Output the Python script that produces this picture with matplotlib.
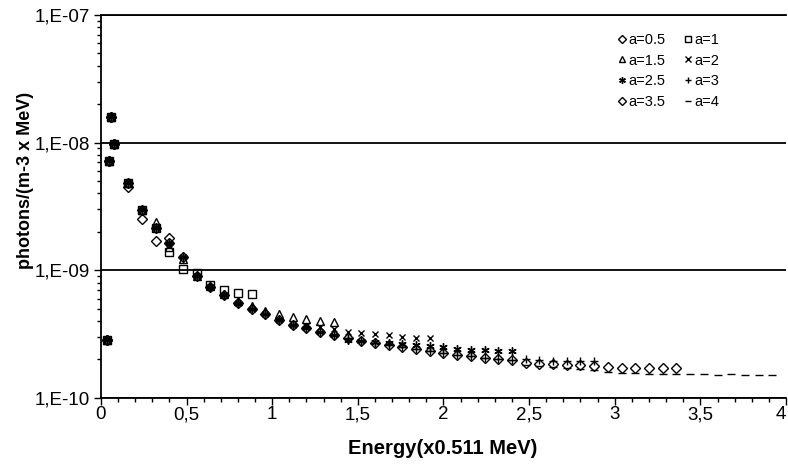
import numpy as np
import matplotlib
matplotlib.use('Agg')
import matplotlib.pyplot as plt
from matplotlib.ticker import FuncFormatter, MultipleLocator, LogLocator, NullFormatter

plt.rcParams['font.family'] = ['Liberation Sans', 'DejaVu Sans']

# energy grid (x0.511 MeV), shared by all series
energy = [0.035, 0.05, 0.06, 0.076,
          0.16, 0.24, 0.32, 0.40, 0.48, 0.56, 0.64, 0.72, 0.80, 0.88,
          0.96, 1.04, 1.12, 1.20, 1.28, 1.36, 1.44, 1.52, 1.60, 1.68,
          1.76, 1.84, 1.92, 2.00, 2.08, 2.16, 2.24, 2.32, 2.40, 2.48,
          2.56, 2.64, 2.72, 2.80, 2.88, 2.96, 3.04, 3.12, 3.20, 3.28,
          3.36, 3.44, 3.52, 3.60, 3.68, 3.76, 3.84, 3.92]

# photons/(m-3 x MeV), one list per a
a05 = [2.85e-10, 7.2e-9, 1.6e-8, 9.8e-9,
       4.50e-9, 2.52e-9, 1.70e-9, 1.78e-9]

a10 = [2.85e-10, 7.2e-9, 1.6e-8, 9.8e-9,
       4.86e-9, 2.97e-9, 2.15e-9, 1.38e-9, 1.02e-9, 9.53e-10, 7.68e-10,
       6.95e-10, 6.68e-10, 6.49e-10]

a15 = [2.85e-10, 7.2e-9, 1.6e-8, 9.8e-9,
       4.86e-9, 2.97e-9, 2.40e-9, 1.53e-9, 1.23e-9, 9.03e-10, 7.54e-10,
       6.53e-10, 5.75e-10, 5.26e-10, 4.80e-10, 4.55e-10, 4.33e-10,
       4.13e-10, 4.03e-10, 3.96e-10]

a20 = [2.85e-10, 7.2e-9, 1.6e-8, 9.8e-9,
       4.86e-9, 2.97e-9, 2.15e-9, 1.64e-9, 1.27e-9, 9.03e-10, 7.41e-10,
       6.41e-10, 5.55e-10, 4.98e-10, 4.55e-10, 4.08e-10, 3.73e-10,
       3.63e-10, 3.57e-10, 3.49e-10, 3.31e-10, 3.25e-10, 3.17e-10,
       3.11e-10, 3.02e-10, 2.95e-10, 2.94e-10]

a25 = [2.85e-10, 7.2e-9, 1.6e-8, 9.8e-9,
       4.86e-9, 2.97e-9, 2.15e-9, 1.64e-9, 1.27e-9, 9.03e-10, 7.41e-10,
       6.41e-10, 5.55e-10, 4.98e-10, 4.55e-10, 4.08e-10, 3.73e-10,
       3.50e-10, 3.29e-10, 3.09e-10, 2.85e-10, 2.80e-10, 2.72e-10,
       2.67e-10, 2.62e-10, 2.58e-10, 2.56e-10, 2.52e-10, 2.42e-10,
       2.38e-10, 2.36e-10, 2.33e-10, 2.31e-10]

a30 = [2.85e-10, 7.2e-9, 1.6e-8, 9.8e-9,
       4.86e-9, 2.97e-9, 2.15e-9, 1.64e-9, 1.27e-9, 9.03e-10, 7.41e-10,
       6.41e-10, 5.55e-10, 4.98e-10, 4.55e-10, 4.08e-10, 3.73e-10,
       3.50e-10, 3.29e-10, 3.09e-10, 2.92e-10, 2.80e-10, 2.67e-10,
       2.58e-10, 2.49e-10, 2.40e-10, 2.33e-10, 2.25e-10, 2.17e-10,
       2.11e-10, 2.06e-10, 2.02e-10, 1.99e-10, 2.00e-10, 1.98e-10,
       1.96e-10, 1.95e-10, 1.95e-10, 1.93e-10]

a35 = [2.85e-10, 7.2e-9, 1.6e-8, 9.8e-9,
       4.86e-9, 2.97e-9, 2.15e-9, 1.64e-9, 1.27e-9, 9.03e-10, 7.41e-10,
       6.41e-10, 5.55e-10, 4.98e-10, 4.55e-10, 4.08e-10, 3.73e-10,
       3.50e-10, 3.29e-10, 3.09e-10, 2.92e-10, 2.80e-10, 2.67e-10,
       2.58e-10, 2.49e-10, 2.40e-10, 2.33e-10, 2.25e-10, 2.17e-10,
       2.11e-10, 2.06e-10, 2.02e-10, 1.98e-10, 1.86e-10, 1.85e-10,
       1.83e-10, 1.81e-10, 1.80e-10, 1.78e-10, 1.73e-10, 1.72e-10,
       1.72e-10, 1.70e-10, 1.70e-10, 1.70e-10]

a40 = [2.85e-10, 7.2e-9, 1.6e-8, 9.8e-9,
       4.86e-9, 2.97e-9, 2.15e-9, 1.64e-9, 1.27e-9, 9.03e-10, 7.41e-10,
       6.41e-10, 5.55e-10, 4.98e-10, 4.55e-10, 4.08e-10, 3.73e-10,
       3.50e-10, 3.29e-10, 3.09e-10, 2.92e-10, 2.80e-10, 2.67e-10,
       2.58e-10, 2.49e-10, 2.40e-10, 2.33e-10, 2.25e-10, 2.17e-10,
       2.11e-10, 2.06e-10, 2.02e-10, 1.98e-10, 1.81e-10, 1.78e-10,
       1.75e-10, 1.72e-10, 1.69e-10, 1.66e-10, 1.60e-10, 1.57e-10,
       1.56e-10, 1.54e-10, 1.54e-10, 1.53e-10, 1.53e-10, 1.53e-10,
       1.51e-10, 1.53e-10, 1.51e-10, 1.51e-10, 1.51e-10]

labels = ['a=0.5', 'a=1', 'a=1.5', 'a=2', 'a=2.5', 'a=3', 'a=3.5', 'a=4']
series = [a05, a10, a15, a20, a25, a30, a35, a40]
markers = ['D', 's', '^', 'x', (6, 2, 0), '+', 'D', '_']
sizes = [5, 5.5, 5.5, 5, 6, 6, 5, 6]

xticks = [0, 0.5, 1, 1.5, 2, 2.5, 3, 3.5, 4]
xticklabels = ['0', '0,5', '1', '1,5', '2', '2,5', '3', '3,5', '4']

fig = plt.figure(figsize=(7.88, 4.67), dpi=100)
ax = fig.add_axes([0.128, 0.148, 0.8695, 0.82])

handles = []
for vals, lab, m, s in zip(series, labels, markers, sizes):
    x = energy[:len(vals)]
    h, = ax.plot(x, vals, linestyle='none', marker=m, markersize=s,
                 markerfacecolor='none', markeredgecolor='black',
                 markeredgewidth=1.0, label=lab, clip_on=False)
    handles.append(h)

ax.set_yscale('log')
ax.set_ylim(1e-10, 1e-7)
ax.set_xlim(0, 4)

ax.set_xticks(xticks, xticklabels)
ax.xaxis.set_minor_locator(MultipleLocator(0.1))

ax.yaxis.set_major_locator(LogLocator(base=10, numticks=10))
ax.yaxis.set_minor_locator(LogLocator(base=10, subs=np.arange(2, 10), numticks=10))
ax.yaxis.set_minor_formatter(NullFormatter())
ax.yaxis.set_major_formatter(FuncFormatter(lambda v, p: '1,E%03d' % int(round(np.log10(v)))))

ax.tick_params(axis='both', which='major', direction='out', length=5, width=1,
               labelsize=13.5, colors='black')
ax.tick_params(axis='both', which='minor', direction='out', length=3, width=1)
ax.tick_params(axis='x', pad=1)
ax.tick_params(axis='y', pad=3)

ax.yaxis.grid(True, which='major', color='black', linewidth=1.3)
ax.xaxis.grid(False)
ax.spines['right'].set_visible(False)
ax.spines['top'].set_linewidth(1.3)
ax.spines['left'].set_linewidth(1.3)
ax.spines['bottom'].set_linewidth(1.3)

ax.set_xlabel('Energy(x0.511 MeV)', fontsize=14.5, fontweight='bold')
ax.xaxis.set_label_coords(0.499, -0.107)
ax.set_ylabel('photons/(m-3 x MeV)', fontsize=13, fontweight='bold')
ax.yaxis.set_label_coords(-0.097, 0.567)

idx = [0, 2, 4, 6, 1, 3, 5, 7]
leg = ax.legend([handles[i] for i in idx], [labels[i] for i in idx],
                ncol=2, loc='upper left', bbox_to_anchor=(0.7545, 0.953),
                frameon=False, fontsize=10.5, handletextpad=0.1,
                columnspacing=1.3, labelspacing=0.45, handlelength=0.6,
                borderpad=0, borderaxespad=0, markerscale=0.8)

# last x label "4" sits at the right edge, keep it inside the picture
ax.get_xticklabels()[-1].set_horizontalalignment('right')

fig.savefig('out.png', dpi=100)
